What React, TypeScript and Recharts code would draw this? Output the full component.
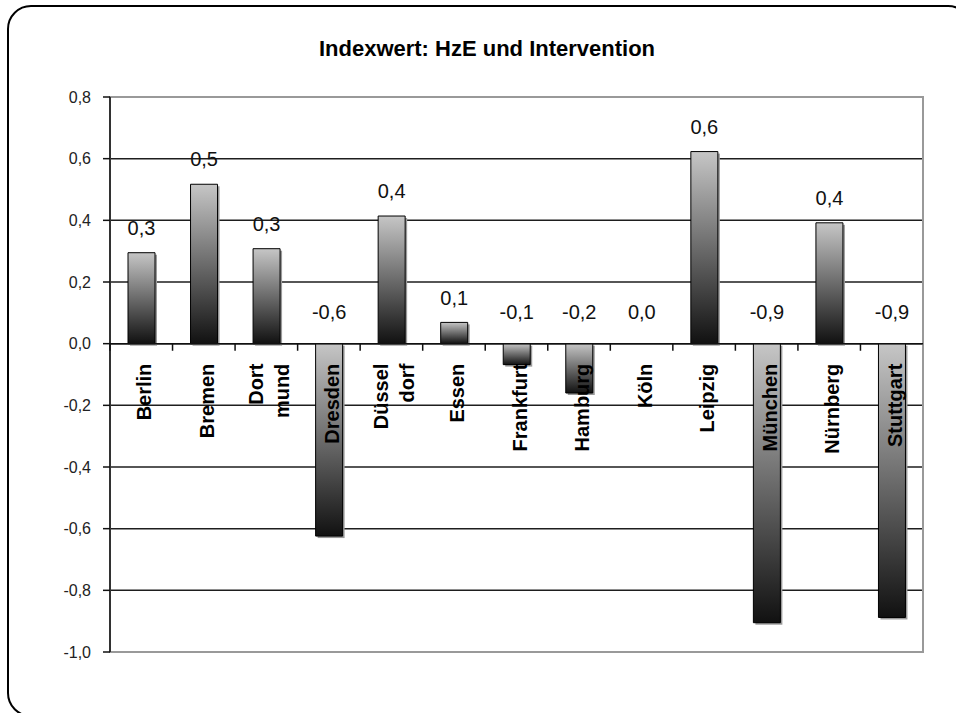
import React from "react";
import {
  BarChart,
  Bar,
  XAxis,
  YAxis,
  CartesianGrid,
  ReferenceLine,
  ReferenceArea,
  LabelList,
  Rectangle,
} from "recharts";

// Städte (Zeilenumbruch für zweizeilige Achsenbeschriftung)
const cities = [
  "Berlin",
  "Bremen",
  "Dort\nmund",
  "Dresden",
  "Düssel\ndorf",
  "Essen",
  "Frankfurt",
  "Hamburg",
  "Köln",
  "Leipzig",
  "München",
  "Nürnberg",
  "Stuttgart",
];
const indexValues = [0.295, 0.517, 0.308, -0.624, 0.414, 0.069, -0.068, -0.16, 0, 0.623, -0.905, 0.392, -0.888];
const yTicks = [-1, -0.8, -0.6, -0.4, -0.2, 0, 0.2, 0.4, 0.6, 0.8];

const data = cities.map((city, i) => ({ city, value: indexValues[i] }));

const FONT = "'Liberation Sans', Arial, sans-serif";
const fmt = (v: number) => v.toFixed(1).replace(".", ",");

function ShadowBar(props: any) {
  const { x, y, width, height } = props;
  const top = Math.min(y, y + height);
  const h = Math.abs(height);
  if (!h) return null;
  return (
    <g>
      <rect x={x + 2} y={top + 2} width={width} height={h} fill="#9a9a9a" />
      <Rectangle x={x} y={top} width={width} height={h} fill="url(#barFill)" stroke="#000" strokeWidth={1} />
    </g>
  );
}

function ValueLabel(props: any) {
  const { x, y, width, height, value } = props;
  const zeroY = y + height;
  const top = Math.min(y, zeroY);
  const cy = value > 0 ? top - 25 : zeroY - 32;
  return (
    <text x={x + width / 2} y={cy} dy="0.36em" textAnchor="middle" fontFamily={FONT} fontSize={20} fill="#111">
      {fmt(value)}
    </text>
  );
}

function CityLabel(props: any) {
  const { x, y, width, height, value } = props;
  const zeroY = y + height;
  const cx = x + width / 2;
  const ty = zeroY + 20;
  const lines = String(value).split("\n");
  const first = lines.length > 1 ? "-0.2em" : "0.5em";
  return (
    <text
      x={cx}
      y={ty}
      transform={`rotate(-90, ${cx}, ${ty})`}
      textAnchor="end"
      fontFamily={FONT}
      fontSize={20}
      fontWeight="bold"
      fill="#000"
    >
      {lines.map((line, i) => (
        <tspan key={line} x={cx} dy={i === 0 ? first : "1.3em"}>
          {line}
        </tspan>
      ))}
    </text>
  );
}

export default function App() {
  return (
    <div style={{ position: "absolute", left: 0, top: 0, width: 956, height: 713, overflow: "hidden", background: "#fff" }}>
      <div
        style={{
          position: "absolute",
          left: 7,
          top: 5,
          width: 965,
          height: 712,
          border: "2px solid #000",
          borderRadius: 24,
          boxSizing: "border-box",
        }}
      />
      <div
        style={{
          position: "absolute",
          left: 9,
          top: 38,
          width: 956,
          textAlign: "center",
          fontFamily: FONT,
          fontWeight: "bold",
          fontSize: 22,
          lineHeight: "22px",
          color: "#000",
        }}
      >
        Indexwert: HzE und Intervention
      </div>
      <div style={{ position: "absolute", left: 0, top: 0 }}>
        <BarChart width={956} height={713} data={data} margin={{ top: 97, right: 33, bottom: 61, left: 10 }}>
          <defs>
            <linearGradient id="barFill" x1="0" y1="0" x2="0" y2="1">
              <stop offset="0%" stopColor="#c6c6c6" />
              <stop offset="100%" stopColor="#111" />
            </linearGradient>
          </defs>
          <CartesianGrid vertical={false} stroke="#1e1e1e" strokeWidth={1.5} />
          <ReferenceArea y1={-1} y2={0.8} fill="none" stroke="#999" strokeWidth={2} />
          <XAxis dataKey="city" hide />
          <YAxis
            domain={[-1, 0.8]}
            ticks={yTicks}
            width={100}
            tickSize={7}
            tickMargin={12}
            tickFormatter={fmt}
            axisLine={{ stroke: "#111", strokeWidth: 1.5 }}
            tickLine={{ stroke: "#111", strokeWidth: 1.5 }}
            tick={{ fontFamily: FONT, fontSize: 16, fill: "#222" }}
          />
          <ReferenceLine y={0} stroke="#111" strokeWidth={1.5} />
          {cities.map((c) => (
            <ReferenceLine
              key={c}
              position="start"
              segment={[
                { x: c, y: 0 },
                { x: c, y: -0.023 },
              ]}
              stroke="#111"
              strokeWidth={1.5}
            />
          ))}
          <Bar dataKey="value" barSize={27} shape={ShadowBar} isAnimationActive={false}>
            <LabelList dataKey="value" content={ValueLabel} />
            <LabelList dataKey="city" content={CityLabel} />
          </Bar>
        </BarChart>
      </div>
    </div>
  );
}
